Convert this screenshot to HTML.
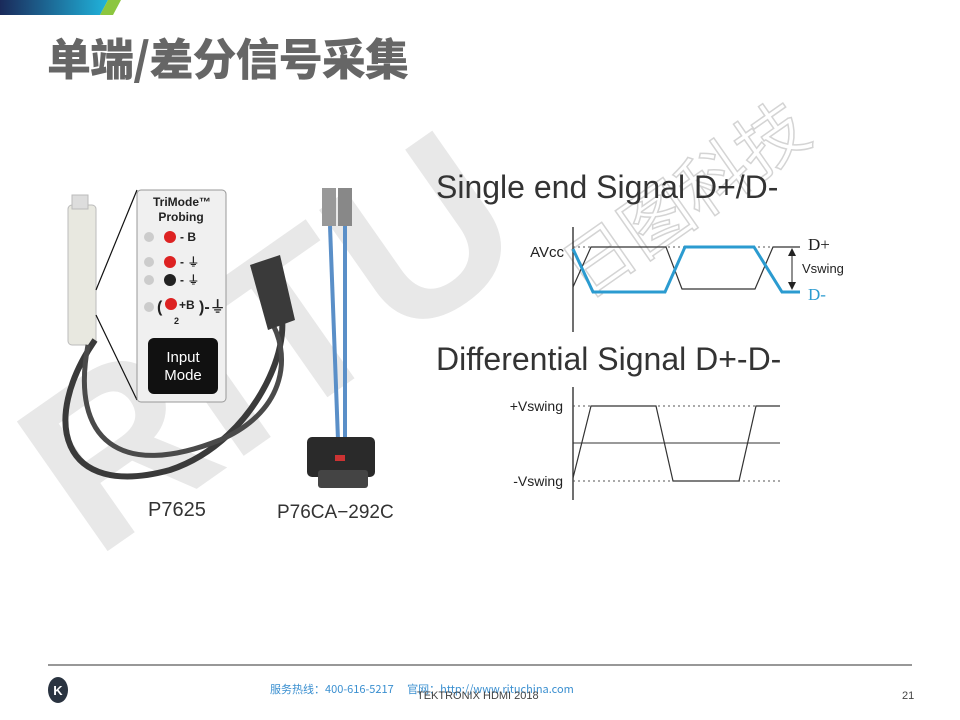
<!DOCTYPE html>
<html><head><meta charset="utf-8"><style>
body{margin:0;width:960px;height:720px;overflow:hidden;background:#fff;font-family:"Liberation Sans","Noto Sans CJK SC",sans-serif}
</style></head><body>
<svg width="960" height="720" viewBox="0 0 960 720" xmlns="http://www.w3.org/2000/svg" style="position:absolute;left:0;top:0">
<defs><linearGradient id="g" x1="0" x2="1"><stop offset="0" stop-color="#1a2a5a"/><stop offset="1" stop-color="#20b4dc"/></linearGradient></defs>
<polygon points="0,0 108,0 100,15 0,15" fill="url(#g)"/>
<polygon points="108,0 121,0 113,15 100,15" fill="#8cc63f"/>
<text x="47" y="75" font-size="44" font-weight="900" fill="#666" font-family="'Noto Sans CJK SC',sans-serif" textLength="362">单端/差分信号采集</text>

<!-- watermark -->
<g fill="#e8e8e8">
<text x="0" y="0" font-size="230" font-weight="bold" transform="translate(95,560) rotate(-35)" font-family="'Liberation Sans',sans-serif">RITU</text>
</g>
<text x="0" y="0" font-size="70" fill="none" stroke="#d4d4d4" stroke-width="1.5" transform="translate(585,300) rotate(-35)" font-family="'Noto Sans CJK SC',sans-serif">日图科技</text>

<!-- probe P7625 -->
<rect x="68" y="205" width="28" height="140" rx="4" fill="#e8e8e0" stroke="#bbb"/>
<rect x="72" y="195" width="16" height="14" fill="#ddd" stroke="#bbb"/>
<path d="M95,340 C40,420 60,500 170,470 C260,440 300,330 275,300" fill="none" stroke="#3a3a3a" stroke-width="6"/>
<path d="M88,345 C70,440 120,480 220,440 C290,410 290,350 270,320" fill="none" stroke="#4a4a4a" stroke-width="5"/>
<polygon points="250,265 280,255 295,320 268,330" fill="#3a3a3a"/>
<line x1="96" y1="290" x2="137" y2="190" stroke="#111" stroke-width="1.2"/>
<line x1="96" y1="315" x2="137" y2="400" stroke="#111" stroke-width="1.2"/>
<rect x="137" y="190" width="89" height="212" rx="4" fill="#f0f0f0" stroke="#999"/>
<text x="182" y="206" font-size="12" font-weight="bold" text-anchor="middle" fill="#222">TriMode™</text>
<text x="181" y="221" font-size="12" font-weight="bold" text-anchor="middle" fill="#222">Probing</text>
<g font-size="12" font-weight="bold" fill="#222">
<circle cx="149" cy="237" r="5" fill="#ccc"/><circle cx="170" cy="237" r="6" fill="#d22"/><text x="180" y="241">- B</text>
<circle cx="149" cy="262" r="5" fill="#ccc"/><circle cx="170" cy="262" r="6" fill="#d22"/><text x="180" y="266">- ⏚</text>
<circle cx="149" cy="280" r="5" fill="#ccc"/><circle cx="170" cy="280" r="6" fill="#222"/><text x="180" y="284">- ⏚</text>
<circle cx="149" cy="307" r="5" fill="#ccc"/><text x="157" y="312" font-size="16">(</text><circle cx="171" cy="304" r="6" fill="#d22"/><text x="179" y="309">+B</text><text x="199" y="312" font-size="16">)-⏚</text><text x="174" y="324" font-size="9">2</text>
</g>
<rect x="148" y="338" width="70" height="56" rx="6" fill="#111"/>
<text x="183" y="362" font-size="15" fill="#fff" text-anchor="middle">Input</text>
<text x="183" y="380" font-size="15" fill="#fff" text-anchor="middle">Mode</text>

<!-- P76CA -->
<rect x="322" y="188" width="14" height="38" fill="#999"/><rect x="338" y="188" width="14" height="38" fill="#888"/>
<line x1="330" y1="226" x2="338" y2="440" stroke="#5a8fc8" stroke-width="4"/>
<line x1="345" y1="226" x2="345" y2="440" stroke="#5a8fc8" stroke-width="4"/>
<rect x="307" y="437" width="68" height="40" rx="5" fill="#2a2a2a"/>
<rect x="318" y="470" width="50" height="18" rx="3" fill="#444"/>
<rect x="335" y="455" width="10" height="6" fill="#c33"/>
<text x="148" y="516" font-size="20" fill="#333">P7625</text>
<text x="277" y="518" font-size="19" fill="#333">P76CA−292C</text>

<!-- right charts -->
<text x="436" y="198" font-size="32" fill="#333">Single end Signal D+/D-</text>
<text x="436" y="370" font-size="32" fill="#333">Differential Signal D+-D-</text>
<line x1="573" y1="227" x2="573" y2="332" stroke="#222" stroke-width="1.3"/>
<line x1="573" y1="247" x2="800" y2="247" stroke="#555" stroke-dasharray="2,3"/>
<text x="564" y="257" font-size="15" text-anchor="end" fill="#222">AVcc</text>
<polyline points="573,287 591,247 666,247 682,289 755,289 773,247 800,247" fill="none" stroke="#333" stroke-width="1.2"/>
<polyline points="573,249 593,292 665,292 685,247 754,247 782,292 800,292" fill="none" stroke="#2b9bd0" stroke-width="3"/>
<line x1="792" y1="250" x2="792" y2="289" stroke="#222"/>
<polygon points="792,248 788,256 796,256" fill="#222"/><polygon points="792,290 788,282 796,282" fill="#222"/>
<text x="808" y="250" font-size="17" fill="#222" font-family="'Liberation Serif',serif">D+</text>
<text x="802" y="273" font-size="13" fill="#222">Vswing</text>
<text x="808" y="300" font-size="17" fill="#2b9bd0" font-family="'Liberation Serif',serif">D-</text>

<line x1="573" y1="387" x2="573" y2="500" stroke="#222" stroke-width="1.3"/>
<line x1="573" y1="406" x2="780" y2="406" stroke="#555" stroke-dasharray="2,3"/>
<line x1="573" y1="481" x2="780" y2="481" stroke="#555" stroke-dasharray="2,3"/>
<line x1="573" y1="443" x2="780" y2="443" stroke="#333"/>
<polyline points="573,478 591,406 656,406 673,481 739,481 756,406 780,406" fill="none" stroke="#333" stroke-width="1.2"/>
<text x="563" y="411" font-size="14" text-anchor="end" fill="#222">+Vswing</text>
<text x="563" y="486" font-size="14" text-anchor="end" fill="#222">-Vswing</text>

<!-- footer -->
<line x1="48" y1="665" x2="912" y2="665" stroke="#777" stroke-width="1.5"/>
<ellipse cx="58" cy="690" rx="10" ry="13" fill="#2a3340"/>
<text x="58" y="695" font-size="13" font-weight="bold" fill="#fff" text-anchor="middle">K</text>
<text x="270" y="693" font-size="11" fill="#3a8fd0" font-family="'Noto Sans CJK SC',sans-serif">服务热线：400-616-5217　 官网：http://www.rituchina.com</text>
<text x="417" y="699" font-size="11" fill="#444">TEKTRONIX HDMI 2018</text>
<text x="902" y="699" font-size="11" fill="#444">21</text>
</svg>
</body></html>
